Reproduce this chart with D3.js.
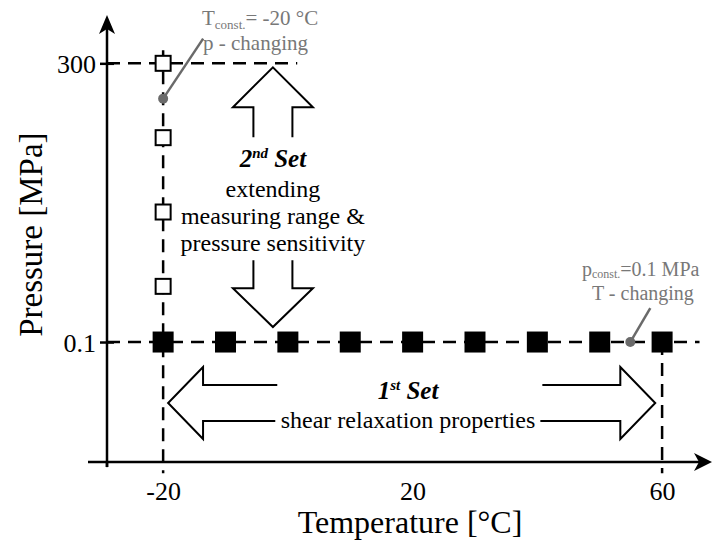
<!DOCTYPE html>
<html>
<head>
<meta charset="utf-8">
<script src="https://cdn.jsdelivr.net/npm/d3@7"></script>
<style>
  body { margin: 0; background: #fff; }
  text { font-family: "Liberation Serif", "Times New Roman", serif; }
</style>
</head>
<body>
<div id="chart"></div>
<script>
// chart data
var firstSetTemps = [-20, -10, 0, 10, 20, 30, 40, 50, 60];   // p = 0.1 MPa
var firstSetPressure = 0.1;
var secondSetPressures = [60, 140, 220, 300];               // T = -20 °C
var secondSetTemp = -20;
var xTickValues = [-20, 20, 60];
var yTickValues = [0.1, 300];

var svgWidth = 713;
var svgHeight = 542;

var svg = d3.select("#chart")
    .append("svg")
    .attr("width", svgWidth)
    .attr("height", svgHeight)
    .attr("font-family", "Liberation Serif, Times New Roman, serif");

// scales (schematic axes, origin is off the data range)
var x = d3.scaleLinear().domain([-29, 68]).range([107, 712]);
var y = d3.scaleLinear().domain([-129, 352]).range([462, 15]);

var gray = "#787878";
var dash = "13,8";

// dashed guide lines
var guides = svg.append("g")
    .attr("stroke", "#000")
    .attr("stroke-width", 2.5)
    .attr("stroke-dasharray", dash)
    .attr("fill", "none");

guides.append("line")
    .attr("x1", x(-29)).attr("x2", x(1.5))
    .attr("y1", y(300)).attr("y2", y(300));

guides.append("line")
    .attr("x1", x(-29)).attr("x2", x(66))
    .attr("y1", y(firstSetPressure)).attr("y2", y(firstSetPressure));

guides.append("line")
    .attr("x1", x(secondSetTemp)).attr("x2", x(secondSetTemp))
    .attr("y1", y(314)).attr("y2", y(-141));

guides.append("line")
    .attr("x1", x(60)).attr("x2", x(60))
    .attr("y1", y(firstSetPressure)).attr("y2", y(-141));

// axes
var axisG = svg.append("g").attr("stroke", "#000").attr("stroke-width", 2.5);
axisG.append("line")
    .attr("x1", x(-29)).attr("x2", x(-29))
    .attr("y1", y(342)).attr("y2", y(-134.5));
axisG.append("line")
    .attr("x1", 88).attr("x2", x(66.5))
    .attr("y1", y(-129)).attr("y2", y(-129));
// small tick where the axes cross
axisG.append("line")
    .attr("x1", x(-29)).attr("x2", x(-29))
    .attr("y1", y(-129)).attr("y2", y(-134.5));

// arrow heads
var ax = x(-29), ayTop = y(352);
svg.append("path")
    .attr("d", `M${ax},${ayTop} L${ax - 8},${ayTop + 19} L${ax},${ayTop + 14} L${ax + 8},${ayTop + 19} Z`)
    .attr("fill", "#000");
var bx = x(68), by = y(-129);
svg.append("path")
    .attr("d", `M${bx},${by} L${bx - 18},${by - 9} L${bx - 13},${by} L${bx - 18},${by + 9} Z`)
    .attr("fill", "#000");

// tick labels via d3 axes
var bottomAxis = d3.axisBottom(x).tickValues(xTickValues).tickSize(0).tickPadding(20)
    .tickFormat(d3.format("d"));
var gx = svg.append("g")
    .attr("transform", `translate(0, ${y(-129)})`)
    .call(bottomAxis);
gx.select(".domain").remove();
gx.selectAll("text")
    .attr("font-family", "Liberation Serif")
    .attr("font-size", 26)
    .attr("fill", "#000")
    .text(d => d < 0 ? "-" + Math.abs(d) : d);

var leftAxis = d3.axisLeft(y).tickValues(yTickValues).tickSize(6).tickPadding(5)
    .tickFormat(d => d === 0.1 ? "0.1" : d);
var gy = svg.append("g")
    .attr("transform", `translate(${x(-29)}, 0)`)
    .call(leftAxis);
gy.select(".domain").remove();
gy.selectAll("line")
    .attr("x1", -7).attr("x2", 7)
    .attr("stroke", "#000").attr("stroke-width", 2.5);
gy.selectAll("text")
    .attr("font-family", "Liberation Serif")
    .attr("font-size", 26)
    .attr("fill", "#000")
    .attr("dy", "0.35em");

// axis titles
svg.append("text")
    .attr("x", 410)
    .attr("y", 533)
    .attr("text-anchor", "middle")
    .attr("font-size", 32)
    .text("Temperature [°C]");

svg.append("text")
    .attr("transform", `translate(42, ${(y(300) + y(0.1)) / 2 + 32}) rotate(-90)`)
    .attr("text-anchor", "middle")
    .attr("font-size", 33)
    .text("Pressure [MPa]");

// 2nd set: open squares at T = -20
var openSize = 15;
svg.append("g").selectAll("rect")
    .data(secondSetPressures)
    .enter()
    .append("rect")
    .attr("x", x(secondSetTemp) - openSize / 2)
    .attr("y", d => y(d) - openSize / 2)
    .attr("width", openSize)
    .attr("height", openSize)
    .attr("fill", "#fff")
    .attr("stroke", "#000")
    .attr("stroke-width", 2);

// 1st set: filled squares at p = 0.1
var fillSize = 21;
svg.append("g").selectAll("rect")
    .data(firstSetTemps)
    .enter()
    .append("rect")
    .attr("x", d => x(d) - fillSize / 2)
    .attr("y", y(firstSetPressure) - fillSize / 2)
    .attr("width", fillSize)
    .attr("height", fillSize)
    .attr("fill", "#000");

// leader annotations
function leader(t, p, dx, dy) {
    var px = x(t), py = y(p);
    svg.append("line")
        .attr("x1", px).attr("y1", py)
        .attr("x2", px + dx).attr("y2", py + dy)
        .attr("stroke", "#6a6a6a").attr("stroke-width", 2.5);
    svg.append("circle")
        .attr("cx", px).attr("cy", py).attr("r", 5)
        .attr("fill", "#6a6a6a");
}
leader(secondSetTemp, 262, 40, -60);
leader(54.9, firstSetPressure, 20, -34);

var t1 = svg.append("text").attr("x", 202).attr("y", 25).attr("font-size", 21).attr("fill", gray);
t1.append("tspan").text("T");
t1.append("tspan").attr("font-size", 13).attr("dy", 4).text("const.");
t1.append("tspan").attr("dy", -4).text("= -20 °C");
svg.append("text").attr("x", 203).attr("y", 50).attr("font-size", 21).attr("fill", gray)
    .text("p - changing");

var t2 = svg.append("text").attr("x", 582).attr("y", 276).attr("font-size", 20).attr("fill", gray);
t2.append("tspan").text("p");
t2.append("tspan").attr("font-size", 12).attr("dy", 2).text("const.");
t2.append("tspan").attr("dy", -2).text("=0.1 MPa");
svg.append("text").attr("x", 592).attr("y", 300).attr("font-size", 20).attr("fill", gray)
    .text("T - changing");

// big outline arrows
var arrows = svg.append("g")
    .attr("fill", "none")
    .attr("stroke", "#000")
    .attr("stroke-width", 2)
    .attr("stroke-linejoin", "miter");

var cx = x(-2.4), hw = 40, hs = 19.5;
var upTip = y(295.7), upBase = y(252.7), upEnd = y(220.5);
arrows.append("path")
    .attr("d", `M${cx - hs},${upEnd} V${upBase} H${cx - hw} L${cx},${upTip} L${cx + hw},${upBase} H${cx + hs} V${upEnd}`);
var dnTop = y(88.2), dnBase = y(58.1), dnTip = y(16.2);
arrows.append("path")
    .attr("d", `M${cx - hs},${dnTop} V${dnBase} H${cx - hw} L${cx},${dnTip} L${cx + hw},${dnBase} H${cx + hs} V${dnTop}`);

var cy = y(-65.5), vh = 36, vs = 18;
var lTip = x(-19.2), lBase = x(-13.6), lEnd = x(-1.7);
arrows.append("path")
    .attr("d", `M${lEnd},${cy - vs} H${lBase} V${cy - vh} L${lTip},${cy} L${lBase},${cy + vh} V${cy + vs} H${lEnd - 2}`);
var rTip = x(58.9), rBase = x(53.3), rEnd = x(40.8);
arrows.append("path")
    .attr("d", `M${rEnd},${cy - vs} H${rBase} V${cy - vh} L${rTip},${cy} L${rBase},${cy + vh} V${cy + vs} H${rEnd - 2}`);

// set captions
var s2 = svg.append("text").attr("x", cx).attr("y", 167).attr("text-anchor", "middle")
    .attr("font-size", 25).attr("font-weight", "bold").attr("font-style", "italic");
s2.append("tspan").text("2");
s2.append("tspan").attr("font-size", 15).attr("dy", -9).text("nd");
s2.append("tspan").attr("dy", 9).text(" Set");

var lines2 = ["extending", "measuring range &", "pressure sensitivity"];
svg.append("g").selectAll("text")
    .data(lines2)
    .enter()
    .append("text")
    .attr("x", cx)
    .attr("y", (d, i) => 197 + i * 27)
    .attr("text-anchor", "middle")
    .attr("font-size", 24)
    .text(d => d);

var s1 = svg.append("text").attr("x", 408).attr("y", 399).attr("text-anchor", "middle")
    .attr("font-size", 25).attr("font-weight", "bold").attr("font-style", "italic");
s1.append("tspan").text("1");
s1.append("tspan").attr("font-size", 15).attr("dy", -9).text("st");
s1.append("tspan").attr("dy", 9).text(" Set");

svg.append("text").attr("x", 408).attr("y", 428).attr("text-anchor", "middle")
    .attr("font-size", 24)
    .text("shear relaxation properties");
</script>
</body>
</html>
